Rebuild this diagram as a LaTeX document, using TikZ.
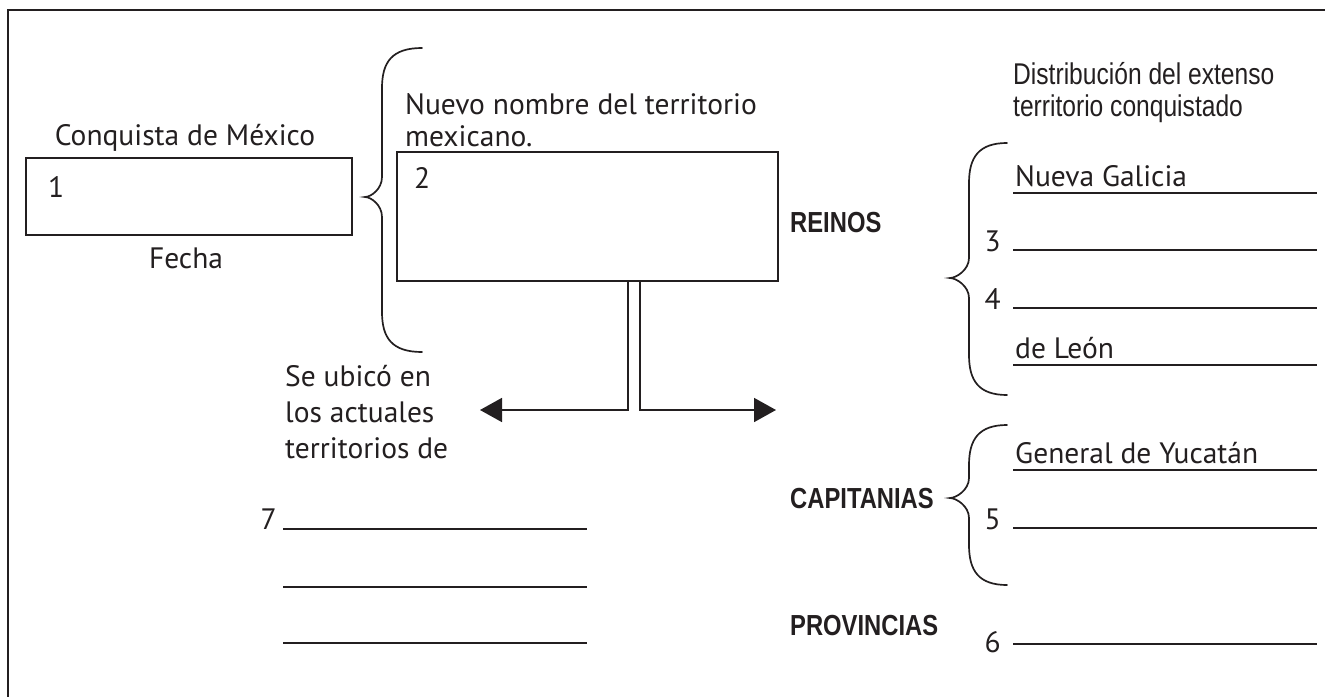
\documentclass[tikz,border=0pt]{standalone}
\usepackage{fontspec}
\setmainfont{PT Sans}
\newfontfamily\arialn[FakeStretch=0.82]{Liberation Sans}
\usetikzlibrary{arrows.meta}
\definecolor{ink}{HTML}{231F20}
\tikzset{
  ln/.style={draw=ink,line width=1.7pt},
  box/.style={draw=ink,line width=1.7pt,inner sep=0pt},
  txt/.style={text=ink,inner sep=0pt,font=\fontsize{29.5}{34}\selectfont},
  atxt/.style={text=ink,inner sep=0pt,font=\arialn\fontsize{30}{34}\selectfont},
  btxt/.style={text=ink,inner sep=0pt,font=\arialn\bfseries\fontsize{29}{33}\selectfont},
  bracestyle/.style={draw=ink,line width=1.7pt,line cap=round},
  arr/.style={draw=ink,line width=1.7pt,-{Triangle[length=22pt,width=24pt]}},
}
\newcommand{\curlybr}[6]{% xe, xv, xt, ytop, ymid, ybot
  \draw[bracestyle] (#1,#4) .. controls (#2+10,#4) and (#2,#4+14) .. (#2,#4+40)
    -- (#2,#5-20) .. controls (#2,#5-8) and (#3+6,#5) .. (#3,#5)
    .. controls (#3+6,#5) and (#2,#5+8) .. (#2,#5+20)
    -- (#2,#6-40) .. controls (#2,#6-14) and (#2+10,#6) .. (#1,#6);}
\begin{document}
\begin{tikzpicture}[x=1pt,y=-1pt]
\clip (0,0) rectangle (1325,696);
\fill[white] (0,0) rectangle (1325,696);
% frame
\draw[ln] (8,10) rectangle (1360,730);

% box 1
\node[box,minimum width=326pt,minimum height=77pt] (b1) at (189,196.5) {};
\node[txt,anchor=base] (t1) at (185,145) {Conquista de México};
\node[txt,anchor=base] (tf) at (186,268) {Fecha};
\node[txt,anchor=base west] (n1) at (48,197) {1};

% left brace
\curlybr{422}{382}{365}{48}{197}{352}

% box 2
\node[box,minimum width=381pt,minimum height=129pt] (b2) at (587.5,216.5) {};
\node[txt,anchor=base west] (nn1) at (405,114) {Nuevo nombre del territorio};
\node[txt,anchor=base west] (nn2) at (405,146) {mexicano.};
\node[txt,anchor=base west] (n2) at (414,188) {2};

% connector
\coordinate (c1) at (628,281);
\coordinate (c2) at (640,281);
\coordinate (la) at (480,410);
\coordinate (ra) at (776,410);
\draw[arr] (c1) |- (la);
\draw[arr] (c2) |- (ra);

% left texts
\node[txt,anchor=base west] (s1) at (285,386) {Se ubicó en};
\node[txt,anchor=base west] (s2) at (285,422) {los actuales};
\node[txt,anchor=base west] (s3) at (285,458) {territorios de};
\node[txt,anchor=base east] (n7) at (277,529) {7};
\coordinate (l7a) at (283,529); \coordinate (l7b) at (587,529);
\coordinate (l8a) at (283,587); \coordinate (l8b) at (587,587);
\coordinate (l9a) at (283,643); \coordinate (l9b) at (587,643);
\draw[ln] (l7a) -- (l7b);
\draw[ln] (l8a) -- (l8b);
\draw[ln] (l9a) -- (l9b);

% right header
\node[atxt,anchor=base west] (d1) at (1013,84) {Distribución del extenso};
\node[atxt,anchor=base west] (d2) at (1013,116) {territorio conquistado};

% categories
\node[btxt,anchor=base west] (reinos) at (790,232) {REINOS};
\node[btxt,anchor=base west] (capit) at (790,508) {CAPITANIAS};
\node[btxt,anchor=base west] (provi) at (790,635) {PROVINCIAS};

% right braces
\curlybr{1007}{969}{950}{143}{278}{395}
\curlybr{1007}{969}{950}{425}{498}{585}

% right lines and labels
\node[txt,anchor=base west] (ng) at (1015,186) {Nueva Galicia};
\node[txt,anchor=base west] (dl) at (1015,358) {de León};
\node[txt,anchor=base west] (gy) at (1015,463) {General de Yucatán};
\node[txt,anchor=base east] (n3) at (1001,251) {3};
\node[txt,anchor=base east] (n4) at (1001,309) {4};
\node[txt,anchor=base east] (n5) at (1001,529) {5};
\node[txt,anchor=base east] (n6) at (1001,652) {6};
\foreach \yy/\nm in {193/a,250/b,308/c,365/d,470/e,528/f,644/g}{
  \coordinate (r\nm1) at (1013,\yy);
  \coordinate (r\nm2) at (1317,\yy);
  \draw[ln] (r\nm1) -- (r\nm2);
}
\end{tikzpicture}
\end{document}
